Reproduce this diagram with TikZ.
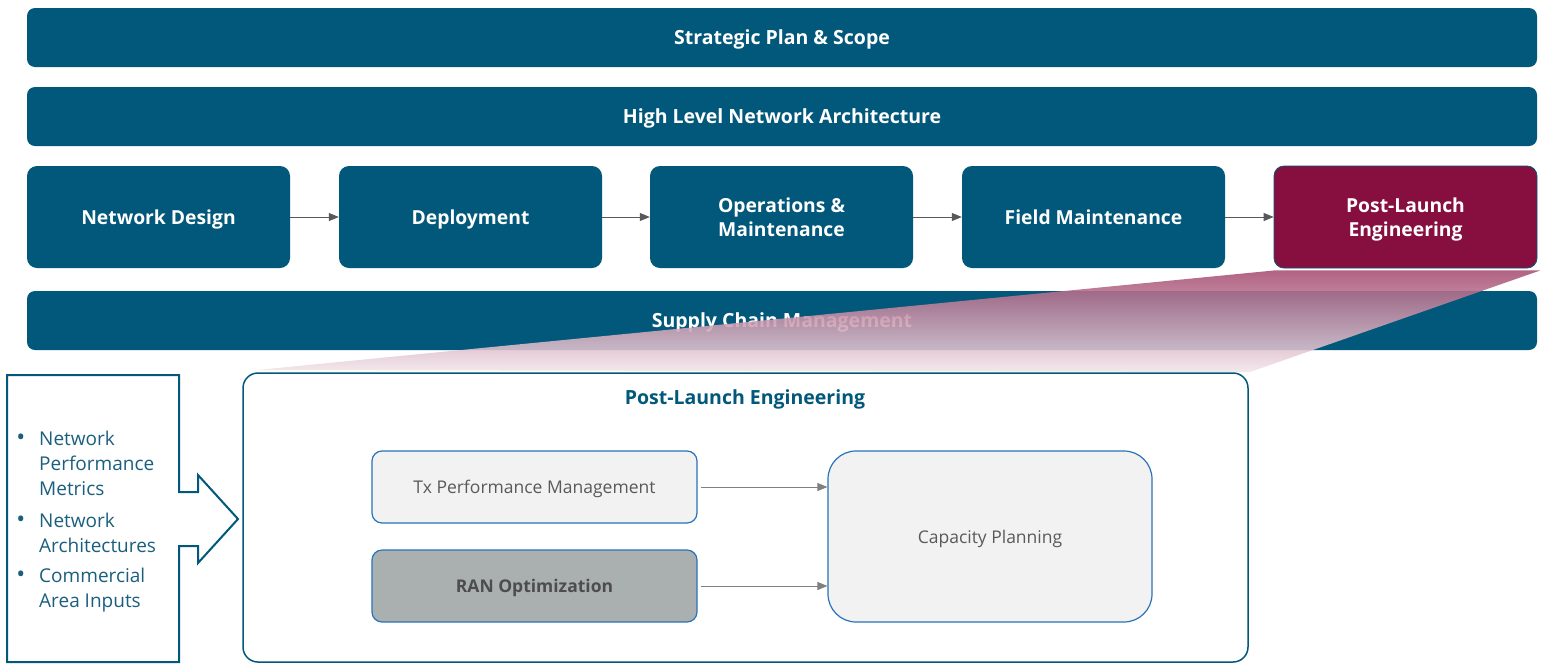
\documentclass[tikz,border=0pt]{standalone}
\usepackage{fontspec}
\setmainfont{Open Sans}
\usetikzlibrary{arrows.meta}
\definecolor{mteal}{RGB}{2,88,122}
\definecolor{mmar}{RGB}{135,15,64}
\definecolor{mblue}{RGB}{40,115,185}
\definecolor{mlgray}{RGB}{242,242,242}
\definecolor{mran}{RGB}{170,176,176}
\definecolor{mtext}{RGB}{89,89,89}
\definecolor{mrantext}{RGB}{77,77,77}
\definecolor{marrow}{RGB}{89,89,89}
\definecolor{marrow2}{RGB}{128,128,128}
\definecolor{mbul}{RGB}{27,95,126}
\newcommand{\mybullet}{\llap{\scalebox{1.25}{•}\hspace{14pt}}}
\tikzset{
  nodepth/.style={text depth=0pt},
  bar/.style={fill=mteal, draw=none, rounded corners=8pt, minimum width=1510pt, minimum height=59pt,
    text=white, font=\fontsize{19.5}{24}\selectfont\bfseries, inner sep=0pt, nodepth},
  rowbox/.style={fill=mteal, draw=none, rounded corners=10pt, minimum width=263pt, minimum height=102pt,
    text=white, font=\fontsize{19.3}{24}\selectfont\bfseries, align=center, inner sep=0pt},
  flow/.style={draw=marrow, line width=0.8pt, -{Triangle[length=10pt,width=8pt]}},
  flow2/.style={draw=marrow2, line width=0.8pt, -{Triangle[length=10pt,width=8pt]}, shorten <=3pt},
  subbox/.style={draw=mblue, line width=1.2pt, rounded corners=10pt, minimum width=325pt, minimum height=72pt,
    inner sep=0pt, font=\fontsize{17.5}{21}\selectfont, nodepth},
  bul/.style={anchor=north west, inner sep=0pt, align=left, text=mbul, font=\fontsize{19}{25}\selectfont},
}
\begin{document}
\begin{tikzpicture}[x=1pt,y=-1pt]
\useasboundingbox (0,0) rectangle (1544,670);
\fill[white] (0,0) rectangle (1544,670);

\node[bar] (sp) at (782,37.5) {Strategic Plan \& Scope};
\node[bar] (hl) at (782,116.5) {High Level Network Architecture};

\node[rowbox, nodepth] (nd) at (158.5,217) {Network Design};
\node[rowbox, nodepth] (dep) at (470.5,217) {Deployment};
\node[rowbox] (om) at (781.5,217) {Operations \&\\Maintenance};
\node[rowbox, nodepth] (fm) at (1093.5,217) {Field Maintenance};
\node[rowbox, nodepth, fill=mmar, draw=mteal, line width=0.8pt] (ple) at (1405.5,217) {Post-Launch\\Engineering};

\draw[flow] (nd) -- (dep);
\draw[flow] (dep) -- (om);
\draw[flow] (om) -- (fm);
\draw[flow] (fm) -- (ple);

\node[bar] (scm) at (782,320.5) {Supply Chain Management};

% detail panel
\node[draw=mteal, line width=1.5pt, fill=white, rounded corners=15pt, minimum width=1005pt, minimum height=289pt, inner sep=0pt] (panel) at (745.5,517.5) {};
\node[text=mteal, font=\fontsize{19.5}{24}\selectfont\bfseries, inner sep=0pt, nodepth] (ptitle) at (745,397) {Post-Launch Engineering};

\node[subbox, fill=mlgray, text=mtext] (tx) at (534.5,487) {Tx Performance Management};
\node[subbox, fill=mran, text=mrantext, font=\fontsize{17.5}{21}\selectfont\bfseries] (ran) at (534.5,586) {RAN Optimization};
\node[subbox, fill=mlgray, text=mtext, rounded corners=28pt, minimum width=324pt, minimum height=171pt] (cap) at (990,536.5) {Capacity Planning};

\coordinate (txend) at (cap.west |- tx.east);
\coordinate (ranend) at (cap.west |- ran.east);
\draw[flow2] (tx.east) -- (txend);
\draw[flow2] (ran.east) -- (ranend);

% zoom funnel
\shade[top color=mmar!75!white, bottom color=mmar!10!white, opacity=0.88]
  (ple.south west) ++(1,2) -- ([xshift=3pt,yshift=-2pt]ple.south east) -- (1250,372) -- (257,370) -- cycle;

% inputs callout
\draw[mteal, line width=2pt, line join=miter]
  (7,375) -- (179,375) -- (179,492) -- (198,492) -- (198,475) -- (238,519) -- (198,563) -- (198,546)
  -- (179,546) -- (179,662) -- (7,662) -- cycle;

\node[bul] (b1) at (39,431) {\mybullet Network\\Performance\\Metrics};
\node[bul] (b2) at (39,513) {\mybullet Network\\Architectures};
\node[bul] (b3) at (39,568) {\mybullet Commercial\\Area Inputs};
\end{tikzpicture}
\end{document}
